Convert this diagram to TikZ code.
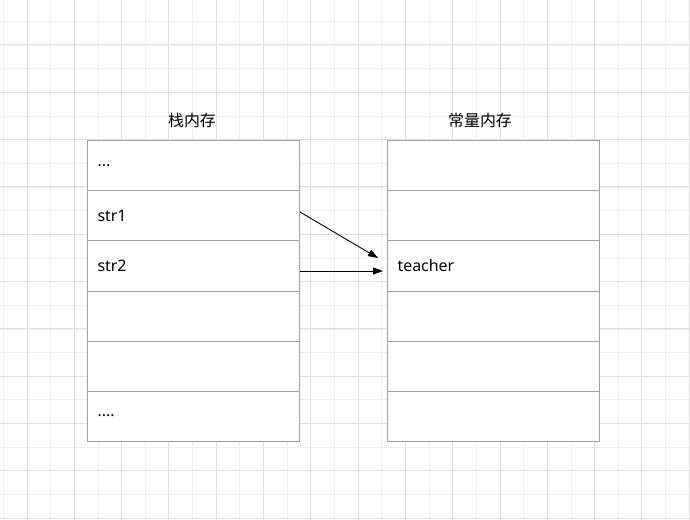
\documentclass[tikz,border=0pt]{standalone}
\usepackage{fontspec}
\setmainfont{Noto Sans}
\newfontfamily\cjk{Noto Sans CJK SC}
\usetikzlibrary{arrows.meta}
\definecolor{gridminor}{HTML}{F0F0F0}
\definecolor{gridmajor}{HTML}{E0E0E0}
\definecolor{boxline}{HTML}{A0A0A0}
\tikzset{
  minorline/.style={draw=gridminor,line width=1bp},
  majorline/.style={draw=gridmajor,line width=1bp},
  cell/.style={draw=boxline,line width=1bp,fill=white,minimum height=50bp,
    text width=192bp,inner xsep=10bp,inner ysep=0pt,align=left,anchor=north west,
    font=\fontsize{16}{19}\selectfont},
  title/.style={font=\cjk\fontsize{16}{19}\selectfont,inner sep=0pt},
  arr/.style={draw=black,line width=0.9bp,-{Triangle[length=10bp,width=7bp]}}
}
\begin{document}
\begin{tikzpicture}[x=1bp,y=-1bp]
\useasboundingbox (0,0) rectangle (690,520);
\fill[white] (0,0) rectangle (690,520);
% grid
\foreach \i in {0,...,29} {
  \draw[minorline] ({3.4+23.65*\i},0) -- ({3.4+23.65*\i},520);
}
\foreach \i in {0,...,22} {
  \draw[minorline] (0,{-2.1+23.65*\i}) -- (690,{-2.1+23.65*\i});
}
\foreach \i in {0,...,14} {
  \draw[majorline] ({27.05+47.3*\i},0) -- ({27.05+47.3*\i},520);
}
\foreach \i in {0,...,11} {
  \draw[majorline] (0,{-2.3+47.3*\i}) -- (690,{-2.3+47.3*\i});
}
% titles
\node[title] (t1) at (192,120) {栈内存};
\node[title] (t2) at (480,120) {常量内存};
% left stack
\node[cell] (L1) at (87,140.5) {...};
\node[cell] (L2) at (87,190.5) {str1};
\node[cell] (L3) at (87,240.5) {str2};
\node[cell] (L4) at (87,290.5) {};
\node[cell] (L5) at (87,340.5) {};
\node[cell] (L6) at (87,390.5) {....};
% right stack
\node[cell] (R1) at (387,140.5) {};
\node[cell] (R2) at (387,190.5) {};
\node[cell] (R3) at (387,240.5) {teacher};
\node[cell] (R4) at (387,290.5) {};
\node[cell] (R5) at (387,340.5) {};
\node[cell] (R6) at (387,390.5) {};
% arrows
\draw[arr] ([yshift=4bp]L2.east) -- ([xshift=-9bp,yshift=8bp]R3.west);
\draw[arr] ([yshift=-5bp]L3.east) -- ([xshift=-4bp,yshift=-5bp]R3.west);
\end{tikzpicture}
\end{document}
